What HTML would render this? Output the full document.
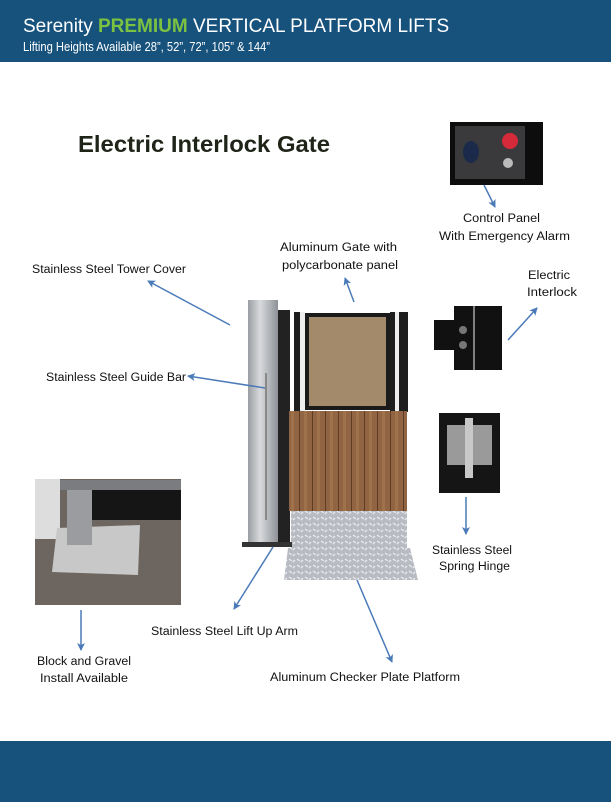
<!DOCTYPE html>
<html><head><meta charset="utf-8"><style>
html,body{margin:0;padding:0;background:#fff}
svg{display:block}
text{font-family:"Liberation Sans",sans-serif}
</style></head><body>
<svg width="611" height="802" viewBox="0 0 611 802" xmlns="http://www.w3.org/2000/svg">
<defs>
<marker id="a" markerWidth="8" markerHeight="8" refX="7" refY="4" orient="auto" markerUnits="userSpaceOnUse"><path d="M0,0 L8,4 L0,8 L2,4 Z" fill="#4a7ab8"/></marker>
<pattern id="chk" width="8" height="6" patternUnits="userSpaceOnUse"><rect width="8" height="6" fill="#b8bcc2"/><path d="M1,1 L4,3 M5,4 L7,2" stroke="#e8eaee" stroke-width="1.3"/></pattern>
<linearGradient id="st" x1="0" x2="1"><stop offset="0" stop-color="#9a9ea3"/><stop offset="0.4" stop-color="#d8dadc"/><stop offset="1" stop-color="#8e9297"/></linearGradient>
<pattern id="wd" width="13" height="10" patternUnits="userSpaceOnUse"><rect width="13" height="10" fill="#916443"/><rect x="0" width="1" height="10" fill="#5e3d24"/><rect x="5" width="3" height="10" fill="#a0724c"/></pattern>
</defs>
<!-- header -->
<rect x="0" y="0" width="611" height="62" fill="#17527d"/>
<text x="23" y="32" font-size="19" fill="#fff">Serenity <tspan font-weight="bold" fill="#7cc241">PREMIUM</tspan> VERTICAL PLATFORM LIFTS</text>
<text x="23" y="51" font-size="12.5" fill="#fff" textLength="247" lengthAdjust="spacingAndGlyphs">Lifting Heights Available 28”, 52”, 72”, 105” &amp; 144”</text>
<rect x="0" y="741" width="611" height="61" fill="#17527d"/>
<!-- title -->
<text x="78" y="152" font-size="23" font-weight="bold" fill="#1f2418" textLength="252" lengthAdjust="spacingAndGlyphs">Electric Interlock Gate</text>
<!-- lift -->
<rect x="248" y="300" width="30" height="247" fill="url(#st)"/>
<line x1="266" y1="373" x2="266" y2="520" stroke="#777" stroke-width="1.5"/>
<rect x="278" y="310" width="12" height="237" fill="#222"/>
<rect x="290" y="312" width="4" height="100" fill="#fff"/>
<rect x="294" y="312" width="6" height="100" fill="#1e1e1e"/>
<rect x="300" y="312" width="5" height="100" fill="#eee"/>
<rect x="390" y="312" width="5" height="100" fill="#1e1e1e"/>
<rect x="395" y="312" width="4" height="100" fill="#eee"/>
<rect x="399" y="312" width="9" height="100" fill="#1e1e1e"/>
<rect x="305" y="313" width="85" height="97" fill="#1a1a1a"/>
<rect x="309" y="317" width="77" height="89" fill="#a38a6b"/>
<rect x="289" y="411" width="118" height="100" fill="url(#wd)"/>
<rect x="291" y="511" width="116" height="37" fill="url(#chk)"/>
<polygon points="288,548 410,548 418,580 284,580" fill="url(#chk)"/>
<rect x="242" y="542" width="50" height="5" fill="#333"/>
<!-- control panel -->
<rect x="450" y="122" width="93" height="63" fill="#0d0d0d"/>
<rect x="455" y="126" width="70" height="53" fill="#3a3a3c"/>
<ellipse cx="471" cy="152" rx="8" ry="11" fill="#1b2a4a"/>
<circle cx="510" cy="141" r="8" fill="#d52a3a"/>
<circle cx="508" cy="163" r="5" fill="#bbb"/>
<!-- interlock -->
<rect x="434" y="320" width="20" height="30" fill="#111"/>
<rect x="454" y="306" width="48" height="64" fill="#111"/>
<line x1="474" y1="306" x2="474" y2="370" stroke="#eee" stroke-width="1"/>
<circle cx="463" cy="330" r="4" fill="#777"/><circle cx="463" cy="345" r="4" fill="#777"/>
<!-- hinge -->
<rect x="439" y="413" width="61" height="80" fill="#151515"/>
<rect x="447" y="425" width="45" height="40" fill="#9a9a9a"/>
<rect x="465" y="418" width="8" height="60" fill="#c8c8c8"/>
<!-- gravel photo -->
<rect x="35" y="479" width="146" height="126" fill="#6d6660"/>
<rect x="60" y="480" width="121" height="10" fill="#7a7c80"/>
<rect x="90" y="490" width="91" height="30" fill="#151515"/>
<rect x="35" y="479" width="25" height="60" fill="#ddd"/>
<polygon points="57,528 140,525 138,575 52,572" fill="#c8c8c8"/>
<rect x="67" y="490" width="25" height="55" fill="#9a9ca0"/>
<!-- arrows -->
<g stroke="#4a7ab8" stroke-width="1.5" fill="none" marker-end="url(#a)">
<line x1="230" y1="325" x2="148" y2="281"/>
<line x1="265" y1="388" x2="188" y2="376"/>
<line x1="354" y1="302" x2="345" y2="278"/>
<line x1="508" y1="340" x2="537" y2="308"/>
<line x1="484" y1="185" x2="495" y2="207"/>
<line x1="466" y1="497" x2="466" y2="534"/>
<line x1="273" y1="547" x2="234" y2="609"/>
<line x1="357" y1="580" x2="392" y2="662"/>
<line x1="81" y1="610" x2="81" y2="650"/>
</g>
<!-- labels -->
<g font-size="11.5" fill="#111">
<text x="32" y="273" textLength="154" lengthAdjust="spacingAndGlyphs">Stainless Steel Tower Cover</text>
<text x="280" y="251" textLength="117" lengthAdjust="spacingAndGlyphs">Aluminum Gate with</text>
<text x="282" y="269" textLength="116" lengthAdjust="spacingAndGlyphs">polycarbonate panel</text>
<text x="463" y="222" textLength="77" lengthAdjust="spacingAndGlyphs">Control Panel</text>
<text x="439" y="240" textLength="131" lengthAdjust="spacingAndGlyphs">With Emergency Alarm</text>
<text x="528" y="279" textLength="42" lengthAdjust="spacingAndGlyphs">Electric</text>
<text x="527" y="296" textLength="50" lengthAdjust="spacingAndGlyphs">Interlock</text>
<text x="46" y="381" textLength="140" lengthAdjust="spacingAndGlyphs">Stainless Steel Guide Bar</text>
<text x="432" y="554" textLength="80" lengthAdjust="spacingAndGlyphs">Stainless Steel</text>
<text x="439" y="570" textLength="71" lengthAdjust="spacingAndGlyphs">Spring Hinge</text>
<text x="151" y="635" textLength="147" lengthAdjust="spacingAndGlyphs">Stainless Steel Lift Up Arm</text>
<text x="37" y="665" textLength="94" lengthAdjust="spacingAndGlyphs">Block and Gravel</text>
<text x="40" y="682" textLength="88" lengthAdjust="spacingAndGlyphs">Install Available</text>
<text x="270" y="681" textLength="190" lengthAdjust="spacingAndGlyphs">Aluminum Checker Plate Platform</text>
</g>
</svg>
</body></html>
